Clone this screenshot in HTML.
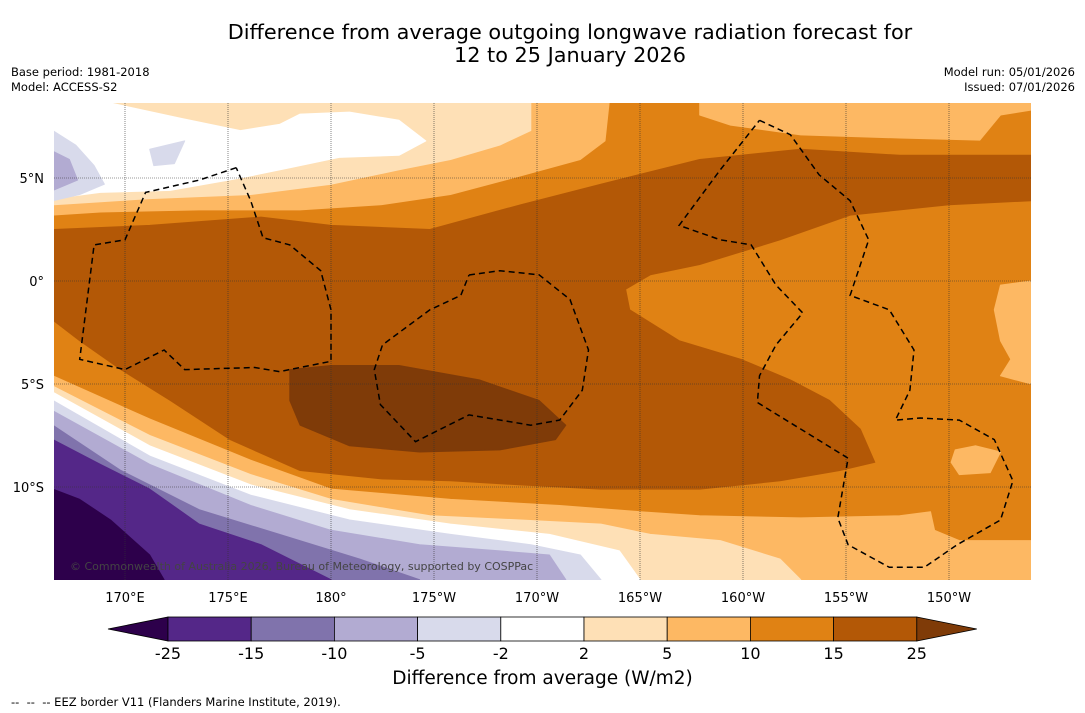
<!DOCTYPE html>
<html><head><meta charset="utf-8">
<style>
body{margin:0;background:#fff;width:1085px;height:713px;overflow:hidden;font-family:"DejaVu Sans","Liberation Sans",sans-serif;}
svg{position:absolute;left:0;top:0;font-family:"DejaVu Sans","Liberation Sans",sans-serif;}
</style></head>
<body>
<svg id="chart" width="1085" height="713"></svg>
<script>
// ---- data ----
const levelBounds = ["-25","-15","-10","-5","-2","2","5","10","15","25"];
const levelColors = ["#2d004b","#542788","#8073ac","#b2abd2","#d8daeb","#ffffff","#fee0b6","#fdb863","#e08214","#b35806","#7f3b08"];
const lonTicks = [170,175,180,185,190,195,200,205,210];
const lonLabels = ["170°E","175°E","180°","175°W","170°W","165°W","160°W","155°W","150°W"];
const latTicks = [5,0,-5,-10];
const latLabels = ["5°N","0°","5°S","10°S"];
// contour regions in [lon, lat] (lon east, >180 = west)
const band15 = [[166.5,2.5],[171.2,2.7],[176.6,3.1],[180,2.7],[184.8,2.5],[189.2,3.7],[193.1,4.7],[197.9,5.9],[202.8,6.4],[207.6,6.1],[214,6.1],[214,3.9],[210,3.7],[205.2,3.2],[201.8,2],[197.9,0.8],[195.5,0.3],[194.3,-0.4],[194.5,-1.4],[196.9,-2.9],[199.9,-3.8],[202.3,-4.8],[204.2,-5.8],[205.7,-7.2],[206.4,-8.8],[204.7,-9.2],[201.8,-9.7],[197.9,-10.1],[193.1,-10.1],[189.2,-9.9],[185.8,-9.7],[182.4,-9.6],[178.5,-9.2],[175.1,-7.7],[172.2,-5.8],[169.8,-4.3],[167.8,-2.9],[166.5,-1.9]];
const band25 = [[178,-4.3],[180,-4.1],[183.3,-4.1],[187.2,-4.8],[190.1,-5.8],[191.4,-7],[190.9,-7.7],[188.2,-8.2],[184.3,-8.3],[180.9,-8],[178.5,-7],[178,-5.8]];
const south5 = [[166.5,-4.6],[171.2,-6.7],[176.1,-8.7],[180,-10.1],[185.8,-10.6],[191.1,-10.9],[195,-11.2],[197.9,-11.4],[202.8,-11.5],[207.6,-11.4],[209.1,-11.2],[209.3,-12.1],[210.5,-12.6],[214,-12.6],[214,-14.5],[166.5,-14.5]];
const south2 = [[166.5,-5.1],[171.2,-7.5],[176.1,-9.4],[180,-10.6],[184.8,-11.4],[189.2,-11.6],[193.1,-11.8],[195.5,-12.3],[198.9,-12.6],[201.8,-13.5],[202.8,-14.5],[166.5,-14.5]];
const southWhite = [[166.5,-5.4],[171.2,-8],[176.1,-9.9],[180.9,-11.1],[185.8,-11.8],[190.6,-12.3],[194,-13.1],[195,-14.5],[166.5,-14.5]];
const southM2 = [[166.5,-5.8],[171.2,-8.5],[176.1,-10.4],[180.9,-11.6],[185.8,-12.3],[189.7,-12.8],[192.1,-13.3],[193.1,-14.5],[166.5,-14.5]];
const southM5 = [[166.5,-6.3],[171.2,-8.9],[176.1,-10.9],[180,-12.1],[184.3,-12.8],[188.2,-13.1],[190.6,-13.3],[191.4,-14.5],[166.5,-14.5]];
const southM10 = [[166.5,-7],[169.8,-9.2],[173.6,-11.1],[177.5,-12.3],[181.4,-13.5],[184.3,-14.5],[166.5,-14.5]];
const southM15 = [[166.5,-7.7],[168.8,-8.9],[171.2,-10.1],[173.6,-11.8],[176.6,-12.8],[180,-14.5],[166.5,-14.5]];
const southM25 = [[166.5,-10.1],[167.8,-10.6],[169.3,-11.6],[171.2,-13.3],[171.9,-14.5],[166.5,-14.5]];
const north5 = [[166.5,8.64],[193.5,8.64],[193.3,6.8],[192.1,5.9],[189.2,5.1],[185.8,4.2],[182.4,3.7],[178.5,3.45],[173.6,3.45],[168.8,3.35],[166.5,3.2]];
const north2 = [[166.5,8.64],[189.7,8.64],[189.7,7.3],[188.2,6.6],[185.8,5.9],[183.3,5.4],[180,4.7],[176.1,4.2],[171.2,4],[166.5,3.7]];
const northWhite = [[166.5,8.64],[169.3,8.64],[172.7,7.9],[175.6,7.3],[177.5,7.6],[178.5,8.1],[180.9,8.2],[183.3,7.8],[184.6,6.8],[183.3,6.1],[180.4,6],[178,5.5],[175.6,5],[172.2,4.4],[168.8,4.3],[166.5,4]];
const northM2 = [[166.5,7.3],[167.6,6.6],[168.5,5.6],[169,4.7],[167.8,4.2],[166.5,3.9]];
const northM5 = [[166.5,6.3],[167.3,5.9],[167.7,4.9],[166.5,4.4]];
const northM2b = [[171.2,6.4],[172.9,6.8],[172.4,5.7],[171.4,5.6]];
const northEast5 = [[197.9,8.64],[214,8.64],[214,8.3],[212.5,8.06],[211.5,6.84],[207.6,6.94],[202.8,7.09],[199.4,7.57],[197.9,8.06]];
const east5 = [[214,0],[212.5,-0.2],[212.2,-1.4],[212.5,-2.9],[213,-3.8],[212.5,-4.6],[214,-5]];
const island5 = [[210.3,-8.2],[211.3,-8],[212.5,-8.3],[212,-9.3],[210.5,-9.4],[210.1,-8.8]];
const eez1 = [[175.4,5.5],[173.6,4.9],[171,4.3],[170,2],[168.5,1.75],[167.8,-3.8],[170,-4.3],[171.9,-3.35],[172.9,-4.3],[176.3,-4.2],[177.5,-4.4],[180,-3.9],[180,-1.4],[179.5,0.5],[178,1.75],[176.7,2.1],[176.1,3.9],[175.4,5.5]];
const eez2 = [[186.7,0.29],[188.2,0.5],[190.1,0.3],[191.6,-0.9],[192.5,-3.35],[192.2,-5.3],[191.1,-6.75],[189.7,-7],[186.7,-6.5],[184.1,-7.8],[182.4,-6],[182.1,-4.3],[182.5,-3.1],[184.8,-1.4],[186.3,-0.7],[186.7,0.29]];
const eez3 = [[200.8,7.8],[202.3,7.1],[203.7,5.15],[205.2,3.9],[206.1,2],[205.2,-0.7],[207.1,-1.4],[208.3,-3.35],[208.1,-5.3],[207.4,-6.75],[208.6,-6.65],[210.5,-6.75],[212.2,-7.7],[213.1,-9.7],[212.5,-11.6],[210.4,-12.8],[208.8,-13.9],[207.1,-13.9],[205.1,-12.8],[204.6,-11.5],[205.1,-8.6],[200.7,-5.9],[200.8,-4.6],[201.6,-3.1],[202.9,-1.55],[201.6,-0.2],[200.4,1.75],[198.9,2],[196.9,2.7],[198.9,5.4],[200.8,7.8]];

// ---- axes ----
const MAP = {x0:54,x1:1031,y0:103,y1:580};
function xOf(lon){return 125+(lon-170)*20.6;}
function yOf(lat){return 281-lat*20.6;}
const NS="http://www.w3.org/2000/svg";
const svg=document.getElementById('chart');
function el(tag,attrs,parent){const e=document.createElementNS(NS,tag);for(const k in attrs)e.setAttribute(k,attrs[k]);(parent||svg).appendChild(e);return e;}
function pts(arr){return arr.map(p=>xOf(p[0]).toFixed(1)+','+yOf(p[1]).toFixed(1)).join(' ');}

const defs=el('defs',{});
const cp=el('clipPath',{id:'mapclip'},defs);
el('rect',{x:MAP.x0,y:MAP.y0,width:MAP.x1-MAP.x0,height:MAP.y1-MAP.y0},cp);
const g=el('g',{'clip-path':'url(#mapclip)'});


const bg=el('rect',{x:MAP.x0,y:MAP.y0,width:MAP.x1-MAP.x0,height:MAP.y1-MAP.y0,fill:levelColors[8]},g);



const layers=[
 [north5,7,'north-5-10'],[north2,6,'north-2-5'],[northWhite,5,'north-near-zero'],[northM2,4,'north-minus-2-5'],[northM5,3,'north-minus-5-10'],[northM2b,4,'north-minus-2-5-blob'],
 [northEast5,7,'northeast-5-10'],
 [south5,7,'south-5-10'],[south2,6,'south-2-5'],[southWhite,5,'south-near-zero'],[southM2,4,'south-minus-2-5'],[southM5,3,'south-minus-5-10'],[southM10,2,'south-minus-10-15'],[southM15,1,'south-minus-15-25'],[southM25,0,'south-below-minus-25'],
 [band15,9,'band-15-25'],[band25,10,'band-above-25'],[east5,7,'east-5-10'],[island5,7,'island-5-10']
];
layers.forEach(l=>{
 const p=el('polygon',{points:pts(l[0]),fill:levelColors[l[1]],'stroke':levelColors[l[1]],'stroke-width':1,'stroke-linejoin':'round'},g);
 
 
});
// grid
lonTicks.forEach(lon=>{const ln=el('line',{x1:xOf(lon),x2:xOf(lon),y1:MAP.y0,y2:MAP.y1,stroke:'#333','stroke-width':0.6,'stroke-dasharray':'1,1'},g);
 
 });
latTicks.forEach(lat=>{const ln=el('line',{x1:MAP.x0,x2:MAP.x1,y1:yOf(lat),y2:yOf(lat),stroke:'#333','stroke-width':0.6,'stroke-dasharray':'1,1'},g);
 
 });
// EEZ
[[eez1,'eez-border-west'],[eez2,'eez-border-central'],[eez3,'eez-border-east']].forEach(e=>{
 const p=el('polyline',{points:pts(e[0]),fill:'none',stroke:'#000','stroke-width':1.5,'stroke-dasharray':'6,4'},g);
 
 
});
const cr=el('text',{x:70,y:570,'font-size':11,fill:'#444'},g);cr.textContent='© Commonwealth of Australia 2026, Bureau of Meteorology, supported by COSPPac';



// axis labels
lonTicks.forEach((lon,i)=>{const t=el('text',{x:xOf(lon),y:602,'font-size':13,'text-anchor':'middle',fill:'#000'});t.textContent=lonLabels[i];
 
 });
latTicks.forEach((lat,i)=>{const t=el('text',{x:44,y:yOf(lat)+5,'font-size':13,'text-anchor':'end',fill:'#000'});t.textContent=latLabels[i];
 
 });

// colorbar
const cbX0=168,cbW=83.2,cbY=617,cbH=24;
const tl=el('polygon',{points:`108,${cbY+cbH/2} ${cbX0},${cbY} ${cbX0},${cbY+cbH}`,fill:levelColors[0],stroke:'#000','stroke-width':0.8});


for(let i=1;i<levelColors.length-1;i++){
 const r=el('rect',{x:cbX0+(i-1)*cbW,y:cbY,width:cbW,height:cbH,fill:levelColors[i],stroke:'#000','stroke-width':0.8});
 
 
}
const endX=cbX0+(levelColors.length-2)*cbW;
const tr=el('polygon',{points:`${endX},${cbY} ${endX+60},${cbY+cbH/2} ${endX},${cbY+cbH}`,fill:levelColors[levelColors.length-1],stroke:'#000','stroke-width':0.8});


levelBounds.forEach((b,i)=>{const t=el('text',{x:cbX0+i*cbW,y:659,'font-size':16,'text-anchor':'middle',fill:'#000'});t.textContent=b;
 
 });
</script>
<div style="position:absolute;left:0;width:1140px;top:21px;text-align:center;font-size:20.8px;line-height:23px;">Difference from average outgoing longwave radiation forecast for<br>12 to 25 January 2026</div>
<div style="position:absolute;left:11px;top:65px;font-size:11.5px;line-height:15px;">Base period: 1981-2018<br>Model: ACCESS-S2</div>
<div style="position:absolute;right:10px;top:65px;font-size:11.5px;line-height:15px;text-align:right;">Model run: 05/01/2026<br>Issued: 07/01/2026</div>
<div style="position:absolute;left:0;width:1085px;top:668px;text-align:center;font-size:18.5px;">Difference from average (W/m2)</div>
<div style="position:absolute;left:11px;top:695px;font-size:11.5px;">--&nbsp; --&nbsp; -- EEZ border V11 (Flanders Marine Institute, 2019).</div>
</body></html>
